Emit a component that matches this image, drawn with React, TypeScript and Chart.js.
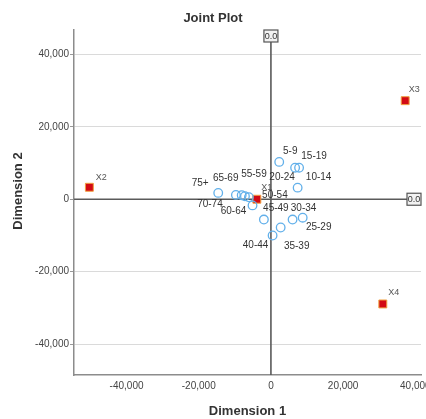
import { useEffect, useRef } from 'react';
import { Chart, registerables } from 'chart.js';

Chart.register(...registerables);

// ---- Data ----
const ageGroups = ['5-9', '10-14', '15-19', '20-24', '25-29', '30-34', '35-39', '40-44', '45-49', '50-54', '55-59', '60-64', '65-69', '70-74', '75+'];
const ageDim1 = [2300, 7400, 7800, 6700, 8800, 6000, 2700, 460, -1950, -6100, -7200, -5100, -8100, -9700, -14600];
const ageDim2 = [10300, 3200, 8700, 8700, -5100, -5600, -7800, -10000, -5600, 550, 830, -1700, 1100, 1200, 1750];

const varLabels = ['X1', 'X2', 'X3', 'X4'];
const varDim1 = [-3900, -50300, 37200, 31000];
const varDim2 = [0, 3300, 27200, -28900];

const xRange = [-54560, 41580];
const yRange = [-48500, 46700];
const xTickValues = [-40000, -20000, 0, 20000, 40000];
const yTickValues = [-40000, -20000, 0, 20000, 40000];

const chartTitle = 'Joint Plot';
const xTitle = 'Dimension 1';
const yTitle = 'Dimension 2';
const refLabel = '0.0';

// label placement (pixel offsets from each marker)
const ageLabelOffsets: [number, number][] = [
  [11, -11], [21, -10], [15, -11], [-13, 10], [16, 10], [11, -11], [16, 19], [-17, 10],
  [12, -11], [26, -2], [9, -22], [-19, 6], [-16, -17], [-26, 9], [-18, -10],
];
const varLabelOffsets: [number, number][] = [[10, -12], [12, -10], [9, -11], [11, -11]];

const FONT = 'Arial, "Liberation Sans", sans-serif';

const fmt = (v: number) => Math.round(v).toLocaleString('en-US');

const decorPlugin = {
  id: 'decor',
  beforeDatasetsDraw(chart: any) {
    const { ctx, chartArea, scales } = chart;
    const x0 = scales.x.getPixelForValue(0);
    const y0 = scales.y.getPixelForValue(0);
    ctx.save();
    ctx.strokeStyle = '#5a5a5a';
    ctx.lineWidth = 1.6;
    ctx.beginPath();
    ctx.moveTo(x0, chartArea.top);
    ctx.lineTo(x0, chartArea.bottom);
    ctx.moveTo(chartArea.left, y0);
    ctx.lineTo(chartArea.right, y0);
    ctx.stroke();
    ctx.restore();
  },
  afterDatasetsDraw(chart: any) {
    const { ctx, chartArea, scales } = chart;
    ctx.save();
    ctx.textAlign = 'center';
    ctx.textBaseline = 'middle';
    ctx.font = `10px ${FONT}`;
    ctx.fillStyle = '#333';
    const m0 = chart.getDatasetMeta(0);
    ageGroups.forEach((lab, i) => {
      const p = m0.data[i];
      const [dx, dy] = ageLabelOffsets[i];
      ctx.fillText(lab, p.x + dx, p.y + dy);
    });
    ctx.font = `9px ${FONT}`;
    ctx.fillStyle = '#555';
    const m1 = chart.getDatasetMeta(1);
    varLabels.forEach((lab, i) => {
      const p = m1.data[i];
      const [dx, dy] = varLabelOffsets[i];
      ctx.fillText(lab, p.x + dx, p.y + dy);
    });

    const x0 = scales.x.getPixelForValue(0);
    const y0 = scales.y.getPixelForValue(0);
    const drawBox = (cx: number, cy: number) => {
      const w = 14, h = 12;
      ctx.fillStyle = '#f2f2f2';
      ctx.fillRect(cx - w / 2, cy - h / 2, w, h);
      ctx.strokeStyle = '#555';
      ctx.lineWidth = 1.2;
      ctx.strokeRect(cx - w / 2, cy - h / 2, w, h);
      ctx.fillStyle = '#333';
      ctx.font = `9px ${FONT}`;
      ctx.fillText(refLabel, cx, cy + 0.5);
    };
    drawBox(x0, chartArea.top + 6);
    drawBox(chartArea.right - 7, y0);

    ctx.fillStyle = '#333';
    ctx.font = `bold 13px ${FONT}`;
    ctx.fillText(chartTitle, 213, 18);
    ctx.fillText(xTitle, (chartArea.left + chartArea.right) / 2, 411);
    ctx.translate(18, 191);
    ctx.rotate(-Math.PI / 2);
    ctx.fillText(yTitle, 0, 0);
    ctx.restore();
  },
};

export default function App() {
  const ref = useRef<HTMLCanvasElement>(null);
  useEffect(() => {
    const chart = new Chart(ref.current!, {
      type: 'scatter',
      data: {
        datasets: [
          {
            label: 'Age',
            data: ageDim1.map((v, i) => ({ x: v, y: ageDim2[i] })),
            pointStyle: 'circle',
            pointRadius: 4.3,
            borderColor: '#62b0ea',
            borderWidth: 1.3,
            backgroundColor: 'rgba(0,0,0,0)',
          },
          {
            label: 'Vars',
            data: varDim1.map((v, i) => ({ x: v, y: varDim2[i] })),
            pointStyle: 'rect',
            pointRadius: 5.6,
            borderColor: '#f0a040',
            borderWidth: 1,
            backgroundColor: '#d20a14',
          },
        ],
      },
      options: {
        responsive: false,
        animation: false,
        devicePixelRatio: 1,
        layout: { padding: { top: 30, right: 15, left: 0, bottom: 0 } },
        plugins: { legend: { display: false }, tooltip: { enabled: false }, title: { display: false } },
        scales: {
          x: {
            type: 'linear',
            min: xRange[0],
            max: xRange[1],
            afterFit: (s: any) => { s.height = 44; },
            afterBuildTicks: (s: any) => { s.ticks = xTickValues.map((value) => ({ value })); },
            ticks: {
              callback: (v: any) => fmt(Number(v)),
              font: { size: 10, family: FONT },
              color: '#444',
              padding: 5,
              maxRotation: 0,
              autoSkip: false,
            },
            grid: { display: true, drawOnChartArea: false, drawTicks: false },
            border: { display: true, color: '#8c8c8c', width: 1.5 },
          },
          y: {
            type: 'linear',
            min: yRange[0],
            max: yRange[1],
            afterFit: (s: any) => { s.width = 74; },
            afterBuildTicks: (s: any) => { s.ticks = yTickValues.map((value) => ({ value })); },
            ticks: {
              callback: (v: any) => fmt(Number(v)),
              font: { size: 10, family: FONT },
              color: '#444',
              padding: 1,
              autoSkip: false,
            },
            grid: { color: '#dadada', lineWidth: 1, drawTicks: true, tickLength: 4, tickColor: '#999' },
            border: { display: true, color: '#8c8c8c', width: 1.5 },
          },
        },
      },
      plugins: [decorPlugin],
    });
    return () => chart.destroy();
  }, []);
  return (
    <div style={{ position: 'absolute', left: 0, top: 0, width: 426, height: 419, overflow: 'hidden', background: '#fff' }}>
      <canvas ref={ref} width={436} height={419} style={{ display: 'block' }} />
    </div>
  );
}
